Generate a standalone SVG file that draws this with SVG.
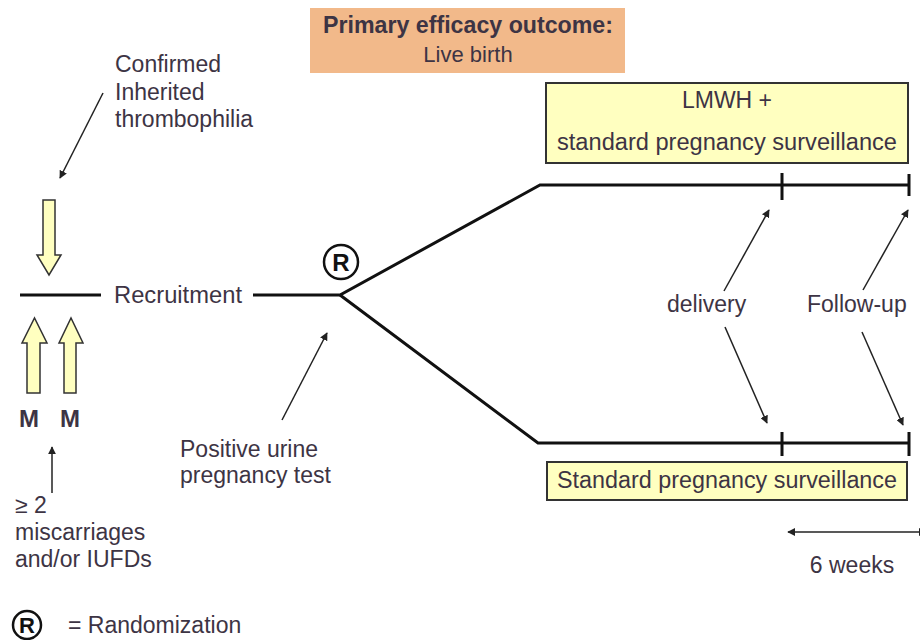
<svg xmlns="http://www.w3.org/2000/svg" width="920" height="640" viewBox="0 0 920 640">
<defs>
<style>
text{font-family:"Liberation Sans",Arial,sans-serif;font-size:23px;fill:#3d3444}
.b{font-weight:bold}
.c{text-anchor:middle}
.main{stroke:#111;stroke-width:3;fill:none}
.thin{stroke:#222;stroke-width:1.5;fill:none}
.blk{fill:#ffffc0;stroke:#333;stroke-width:1.5}
.box{fill:#ffffc0;stroke:#333;stroke-width:2}
</style>
<marker id="ah" viewBox="0 0 10 10" refX="9" refY="5" markerWidth="8" markerHeight="8" markerUnits="userSpaceOnUse" orient="auto-start-reverse">
<path d="M0,0 L10,5 L0,10 z" fill="#222"/>
</marker>
</defs>
<rect width="920" height="640" fill="#fff"/>

<g id="outcome">
<rect x="310" y="8" width="315" height="65" fill="#f2b98a"/>
<text class="b c" x="468" y="33" textLength="290" lengthAdjust="spacingAndGlyphs">Primary efficacy outcome:</text>
<text class="c" x="468" y="62" style="font-size:22px">Live birth</text>
</g>

<g id="lmwh">
<rect class="box" x="546" y="83" width="362" height="80"/>
<text class="c" x="727" y="108">LMWH +</text>
<text class="c" x="727" y="150" textLength="340" lengthAdjust="spacingAndGlyphs">standard pregnancy surveillance</text>
</g>

<g id="standard">
<rect class="box" x="547" y="462" width="360" height="38"/>
<text class="c" x="727" y="488" textLength="340" lengthAdjust="spacingAndGlyphs">Standard pregnancy surveillance</text>
</g>

<g id="randomization">
<circle cx="341" cy="262" r="17" fill="#fff" stroke="#111" stroke-width="2.5"/>
<text class="b c" x="341" y="271" style="font-size:24px;fill:#111">R</text>
</g>

<g id="recruitment">
<text x="114" y="303" textLength="128" lengthAdjust="spacingAndGlyphs">Recruitment</text>
</g>

<g id="thrombophilia">
<text x="115" y="72">Confirmed</text>
<text x="115" y="100">Inherited</text>
<text x="115" y="127">thrombophilia</text>
</g>

<g id="arrow-down">
<path class="blk" d="M43,200 H55 V255 H61 L49,275 L37,255 H43 Z"/>
</g>
<g id="arrow-up-1">
<path class="blk" d="M27,393 V343 H22 L34.5,318 L47,343 H40 V393 Z"/>
</g>
<g id="arrow-up-2">
<path class="blk" d="M64,393 V343 H59 L71,318 L83,343 H76 V393 Z"/>
</g>
<g id="m-labels">
<text class="b c" x="29" y="427" style="font-size:24px">M</text>
<text class="b c" x="70" y="427" style="font-size:24px">M</text>
</g>

<g id="miscarriages">
<text x="15" y="513">≥ 2</text>
<text x="15" y="540">miscarriages</text>
<text x="15" y="567">and/or IUFDs</text>
</g>

<g id="urine">
<text x="180" y="457">Positive urine</text>
<text x="180" y="483">pregnancy test</text>
</g>

<g id="delivery">
<text x="667" y="312">delivery</text>
</g>
<g id="followup">
<text x="807" y="312">Follow-up</text>
</g>

<g id="weeks">
<text class="c" x="852" y="573">6 weeks</text>
</g>

<g id="legend">
<circle cx="27" cy="625" r="14" fill="#fff" stroke="#111" stroke-width="2.5"/>
<text class="b c" x="27" y="633" style="font-size:22px;fill:#111">R</text>
<text x="68" y="633">= Randomization</text>
</g>

<g id="connectors">
<path class="main" d="M20,295 H101"/>
<path class="main" d="M253,295 H340 L540,185 H910"/>
<path class="main" d="M340,295 L538,443 H910"/>
<path class="main" d="M782,173 V200 M909,174 V196"/>
<path class="main" d="M782,432 V456 M909,432 V456"/>
<path class="thin" marker-end="url(#ah)" d="M103,93 L60,178"/>
<path class="thin" marker-end="url(#ah)" d="M52,493 L52,447"/>
<path class="thin" marker-end="url(#ah)" d="M282,420 L327,333"/>
<path class="thin" marker-end="url(#ah)" d="M724,291 L769,210"/>
<path class="thin" marker-end="url(#ah)" d="M863,290 L908,210"/>
<path class="thin" marker-end="url(#ah)" d="M725,327 L767,423"/>
<path class="thin" marker-end="url(#ah)" d="M862,332 L903,425"/>
<path class="thin" marker-start="url(#ah)" marker-end="url(#ah)" d="M788,532 L926,532"/>
</g>
</svg>
